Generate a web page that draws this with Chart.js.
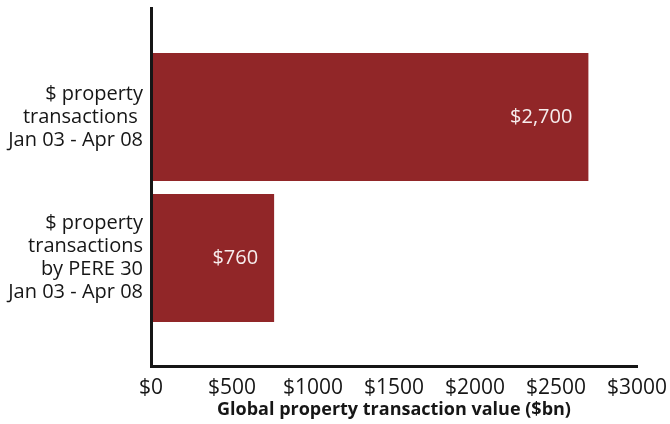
<!DOCTYPE html>
<html>
<head>
<meta charset="utf-8">
<script src="https://cdn.jsdelivr.net/npm/chart.js@4/dist/chart.umd.min.js"></script>
<style>
  html, body { margin: 0; padding: 0; background: #fff; }
  #wrap { width: 670px; height: 424px; }
</style>
</head>
<body>
<div id="wrap"><canvas id="chart"></canvas></div>
<script>
// categories (one array of lines per bar) and values in $bn
const categories = [
    ['$ property', 'transactions ', 'Jan 03 - Apr 08'],
    ['$ property', 'transactions', 'by PERE 30', 'Jan 03 - Apr 08']
]
const values = [2700, 760]
const xTicks = [0, 500, 1000, 1500, 2000, 2500, 3000]
const xTitle = 'Global property transaction value ($bn)'

const barColor = '#912628'
const inkColor = '#161616'
const fontFamily = '"Open Sans", "DejaVu Sans", sans-serif'

const money = v => '$' + v.toLocaleString('en-US')

// value labels, right-aligned inside the end of each bar
const valueLabels = {
    id: 'valueLabels',
    afterDatasetsDraw(chart) {
        const ctx = chart.ctx
        const meta = chart.getDatasetMeta(0)
        ctx.save()
        ctx.fillStyle = '#f7eded'
        ctx.font = '20px ' + fontFamily
        ctx.textAlign = 'right'
        ctx.textBaseline = 'middle'
        meta.data.forEach((bar, i) => {
            ctx.fillText(money(values[i]), bar.x - 16, bar.y)
        })
        ctx.restore()
    }
}

new Chart(document.getElementById('chart'), {
    type: 'bar',
    data: {
        datasets: [{
            data: values.map((v, i) => ({ x: v, y: i })),
            backgroundColor: barColor,
            borderWidth: 0,
            barPercentage: 1,
            categoryPercentage: 0.908
        }]
    },
    options: {
        indexAxis: 'y',
        responsive: true,
        maintainAspectRatio: false,
        animation: false,
        layout: { padding: { top: 8, right: 33, left: 0, bottom: 0 } },
        plugins: {
            legend: { display: false },
            tooltip: { enabled: false }
        },
        scales: {
            x: {
                type: 'linear',
                min: 0,
                max: 3000,
                afterBuildTicks: s => { s.ticks = xTicks.map(v => ({ value: v })) },
                afterFit: s => { s.height = 58; s.paddingLeft = 0; s.paddingRight = 0 },
                grid: { display: false },
                border: { color: inkColor, width: 3, z: 1 },
                ticks: {
                    callback: v => '$' + v,
                    autoSkip: false,
                    maxRotation: 0,
                    padding: 1,
                    color: inkColor,
                    font: { family: fontFamily, size: 21 }
                },
                title: {
                    display: true,
                    text: xTitle,
                    color: inkColor,
                    padding: { top: 4, bottom: 3 },
                    font: { family: fontFamily, size: 18, weight: 'bold' }
                }
            },
            y: {
                type: 'linear',
                reverse: true,
                offset: false,
                min: -0.773,
                max: 1.766,
                afterBuildTicks: s => { s.ticks = categories.map((c, i) => ({ value: i })) },
                afterFit: s => { s.width = 151; s.paddingTop = 0; s.paddingBottom = 0 },
                grid: { display: false },
                border: { color: inkColor, width: 3, z: 1 },
                ticks: {
                    callback: v => categories[v],
                    autoSkip: false,
                    padding: 0,
                    color: inkColor,
                    font: { family: fontFamily, size: 20, lineHeight: 1.15 }
                }
            }
        }
    },
    plugins: [valueLabels]
})
</script>
</body>
</html>
